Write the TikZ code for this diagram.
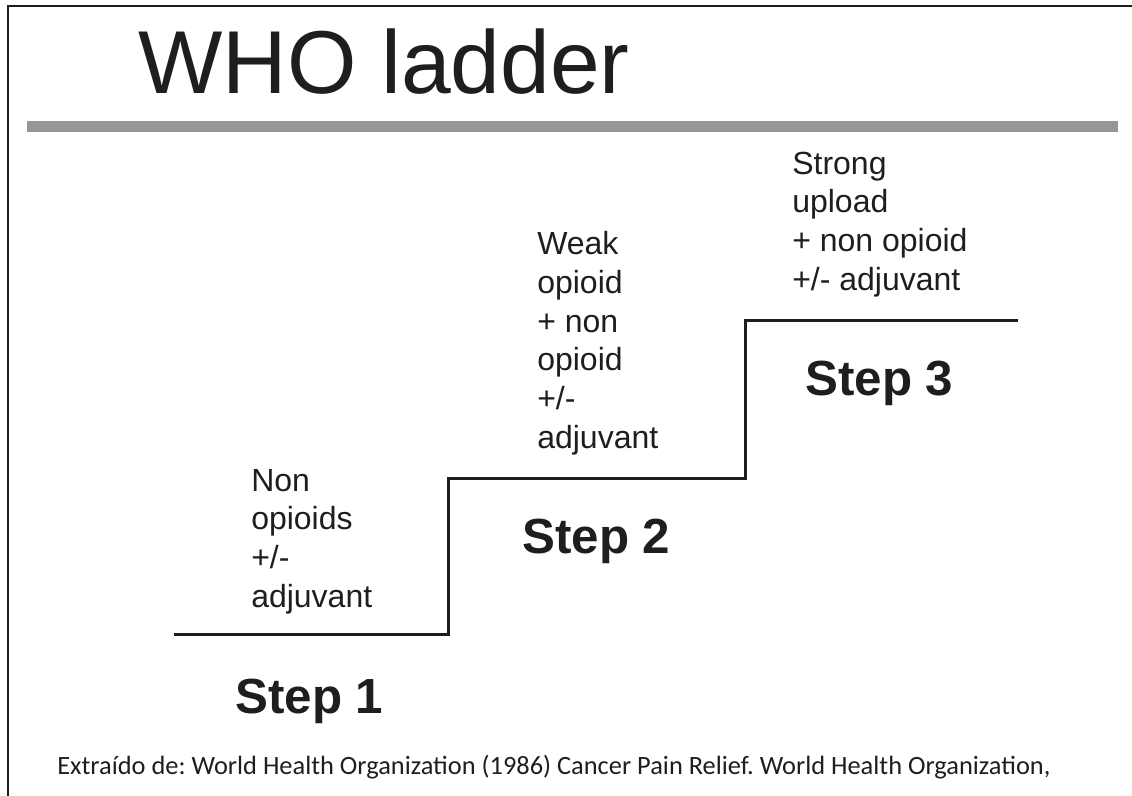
\documentclass[tikz,border=0pt]{standalone}
\usepackage{fontspec}
\setmainfont{Liberation Sans}
\newfontfamily\footfont{Carlito}
\definecolor{ink}{HTML}{1E1E1E}
\definecolor{bargray}{HTML}{969696}
\frenchspacing
\begin{document}
\begin{tikzpicture}[x=0.75pt,y=-0.75pt,
  lbl/.style={anchor=base west, inner sep=0pt, align=left, font=\fontsize{24}{29}\selectfont, text=ink},
  steplbl/.style={anchor=base west, inner sep=0pt, font=\fontsize{37}{44}\selectfont\bfseries, text=ink},
  stair/.style={draw=ink, line width=2.25pt, line join=miter},
  frameline/.style={draw=ink, line width=1.9pt},
  titlebar/.style={draw=bargray, line width=8.25pt}]
\useasboundingbox (0,0) rectangle (1132,796);
% frame
\coordinate (ftl) at (8,6);
\coordinate (ftr) at (1132,6);
\coordinate (fbl) at (8,796);
\draw[frameline] (ftr) -- (ftl) -- (fbl);
% title
\node[anchor=base west, inner sep=0pt, font=\fontsize{67}{80}\selectfont, text=ink] (title) at (138,93) {WHO ladder};
\coordinate (barl) at (27,126.5);
\coordinate (barr) at (1118,126.5);
\draw[titlebar] (barl) -- (barr);
% stairs
\coordinate (s0) at (174,634);
\coordinate (s1) at (448,634);
\coordinate (s2) at (448,478);
\coordinate (s3) at (745,478);
\coordinate (s4) at (745,320);
\coordinate (s5) at (1018,320);
\draw[stair] (s0) -- (s1) -- (s2) -- (s3) -- (s4) -- (s5);
% texts (base anchor = last line's baseline)
\node[lbl] (t1) at (251,607) {Non\\opioids\\+/-\\adjuvant};
\node[lbl] (t2) at (537,448) {Weak\\opioid\\+ non\\opioid\\+/-\\adjuvant};
\node[lbl] (t3) at (792,290) {Strong\\upload\\+ non opioid\\+/- adjuvant};
\node[steplbl] (st1) at (235,713) {Step 1};
\node[steplbl] (st2) at (522,553) {Step 2};
\node[steplbl] (st3) at (805,395) {Step 3};
% footer
\node[anchor=base west, inner sep=0pt, font=\footfont\fontsize{19.8}{24}\selectfont\frenchspacing, text=ink] (foot) at (57,774) {Extraído de: World Health Organization (1986) Cancer Pain Relief. World Health Organization,};
\end{tikzpicture}
\end{document}
